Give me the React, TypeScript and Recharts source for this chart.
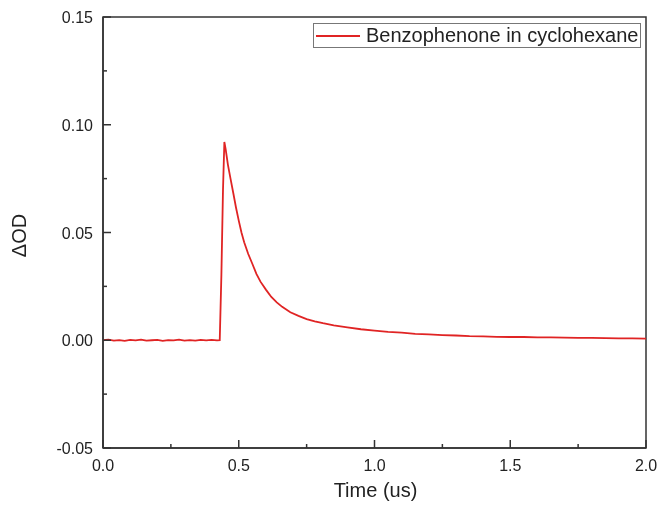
import { Legend, Line, LineChart, ReferenceArea, XAxis, YAxis } from "recharts";

// transient absorption trace
const times = [
  0.0, 0.02, 0.04, 0.06, 0.08, 0.1, 0.12, 0.14, 0.16, 0.18, 0.2, 0.22, 0.24, 0.26, 0.28, 0.3, 0.32, 0.34, 0.36,
  0.38, 0.4, 0.42, 0.43, 0.436, 0.442, 0.447, 0.452, 0.46, 0.47, 0.48, 0.49, 0.5, 0.51, 0.52, 0.535, 0.55, 0.565,
  0.58, 0.6, 0.62, 0.64, 0.66, 0.69, 0.72, 0.75, 0.78, 0.81, 0.85, 0.9, 0.95, 1.0, 1.05, 1.1, 1.15, 1.2, 1.25,
  1.3, 1.35, 1.4, 1.45, 1.5, 1.55, 1.6, 1.65, 1.7, 1.75, 1.8, 1.85, 1.9, 1.95, 2.0,
];
const deltaOD = [
  0.0, 0.0003, -0.0002, 0.0001, -0.0003, 0.0002, -0.0001, 0.0003, -0.0002, 0.0, 0.0002, -0.0003, 0.0001, -0.0001,
  0.0003, -0.0002, 0.0001, -0.0002, 0.0002, -0.0001, 0.0002, -0.0001, 0.0, 0.03, 0.07, 0.092, 0.0885, 0.0815, 0.0748,
  0.0682, 0.0615, 0.0555, 0.05, 0.0455, 0.04, 0.0355, 0.0308, 0.0272, 0.0235, 0.0201, 0.0176, 0.0155, 0.013, 0.0113,
  0.0098, 0.0088, 0.0079, 0.0069, 0.006, 0.0051, 0.0045, 0.0039, 0.0035, 0.003, 0.0027, 0.0024, 0.0022, 0.0019,
  0.0018, 0.0016, 0.0015, 0.0015, 0.0013, 0.0013, 0.0012, 0.0011, 0.0011, 0.001, 0.0009, 0.0009, 0.0008,
];

const xTicks = [0, 0.25, 0.5, 0.75, 1.0, 1.25, 1.5, 1.75, 2.0];
const yTicks = [-0.05, -0.025, 0, 0.025, 0.05, 0.075, 0.1, 0.125, 0.15];
const seriesName = "Benzophenone in cyclohexane";

const data = times.map((t, i) => ({ t, od: deltaOD[i] }));

const FONT = "'Liberation Sans', Arial, sans-serif";
const AXIS = "#333";
const RED = "#e02424";

const XTick = (props: any) => {
  const { x, y, index, payload } = props;
  const major = index % 2 === 0;
  return (
    <g>
      <line x1={x} x2={x} y1={y} y2={y - (major ? 8 : 4)} stroke={AXIS} strokeWidth={1.5} />
      {major && (
        <text x={x} y={y + 23} textAnchor="middle" fontSize={16} fill="#222" fontFamily={FONT}>
          {payload.value.toFixed(1)}
        </text>
      )}
    </g>
  );
};

const YTick = (props: any) => {
  const { x, y, index, payload } = props;
  const major = index % 2 === 0;
  return (
    <g>
      <line x1={x} x2={x + (major ? 8 : 4)} y1={y} y2={y} stroke={AXIS} strokeWidth={1.5} />
      {major && (
        <text x={x - 10} y={y + 6} textAnchor="end" fontSize={16} fill="#222" fontFamily={FONT}>
          {payload.value.toFixed(2)}
        </text>
      )}
    </g>
  );
};

const LegendBox = () => (
  <div
    style={{
      display: "flex",
      alignItems: "center",
      border: "1px solid #777",
      height: 23,
      width: 326,
      background: "#fff",
      fontFamily: FONT,
      fontSize: 20,
      color: "#222",
    }}
  >
    <svg width={52} height={10}>
      <line x1={2} x2={46} y1={5} y2={5} stroke={RED} strokeWidth={2} />
    </svg>
    <span>{seriesName}</span>
  </div>
);

export default function App() {
  return (
    <div style={{ position: "fixed", left: 0, top: 0, width: 659, height: 508 }}>
      <LineChart width={659} height={508} data={data} margin={{ top: 17, right: 13, left: 0, bottom: 0 }}>
        <ReferenceArea x1={0} x2={2} y1={-0.05} y2={0.15} fill="none" stroke={AXIS} strokeWidth={1.5} />
        <XAxis
          dataKey="t"
          type="number"
          domain={[0, 2]}
          ticks={xTicks}
          allowDataOverflow
          height={60}
          tickSize={0}
          tickMargin={0}
          tickLine={false}
          axisLine={{ stroke: AXIS, strokeWidth: 1.5 }}
          tick={<XTick />}
          interval={0}
          label={{
            content: (p: any) => (
              <text
                x={p.viewBox.x + p.viewBox.width / 2 + 1}
                y={p.viewBox.y + 49}
                textAnchor="middle"
                fontSize={20}
                fill="#222"
                fontFamily={FONT}
              >
                Time (us)
              </text>
            ),
          }}
        />
        <YAxis
          type="number"
          domain={[-0.05, 0.15]}
          ticks={yTicks}
          allowDataOverflow
          width={103}
          tickSize={0}
          tickMargin={0}
          tickLine={false}
          axisLine={{ stroke: AXIS, strokeWidth: 1.5 }}
          tick={<YTick />}
          interval={0}
          label={{
            content: (p: any) => {
              const cx = p.viewBox.x + 18.5;
              const cy = p.viewBox.y + p.viewBox.height / 2 + 3;
              return (
                <text
                  x={cx}
                  y={cy}
                  transform={`rotate(-90, ${cx}, ${cy})`}
                  textAnchor="middle"
                  dominantBaseline="central"
                  fontSize={20}
                  fill="#222"
                  fontFamily={FONT}
                >
                  ΔOD
                </text>
              );
            },
          }}
        />
        <Legend
          layout="vertical"
          align="center"
          verticalAlign="middle"
          wrapperStyle={{ top: 23, left: 313, width: "auto" }}
          content={<LegendBox />}
        />
        <Line
          type="linear"
          dataKey="od"
          name={seriesName}
          stroke={RED}
          strokeWidth={1.8}
          dot={false}
          isAnimationActive={false}
        />
      </LineChart>
    </div>
  );
}
